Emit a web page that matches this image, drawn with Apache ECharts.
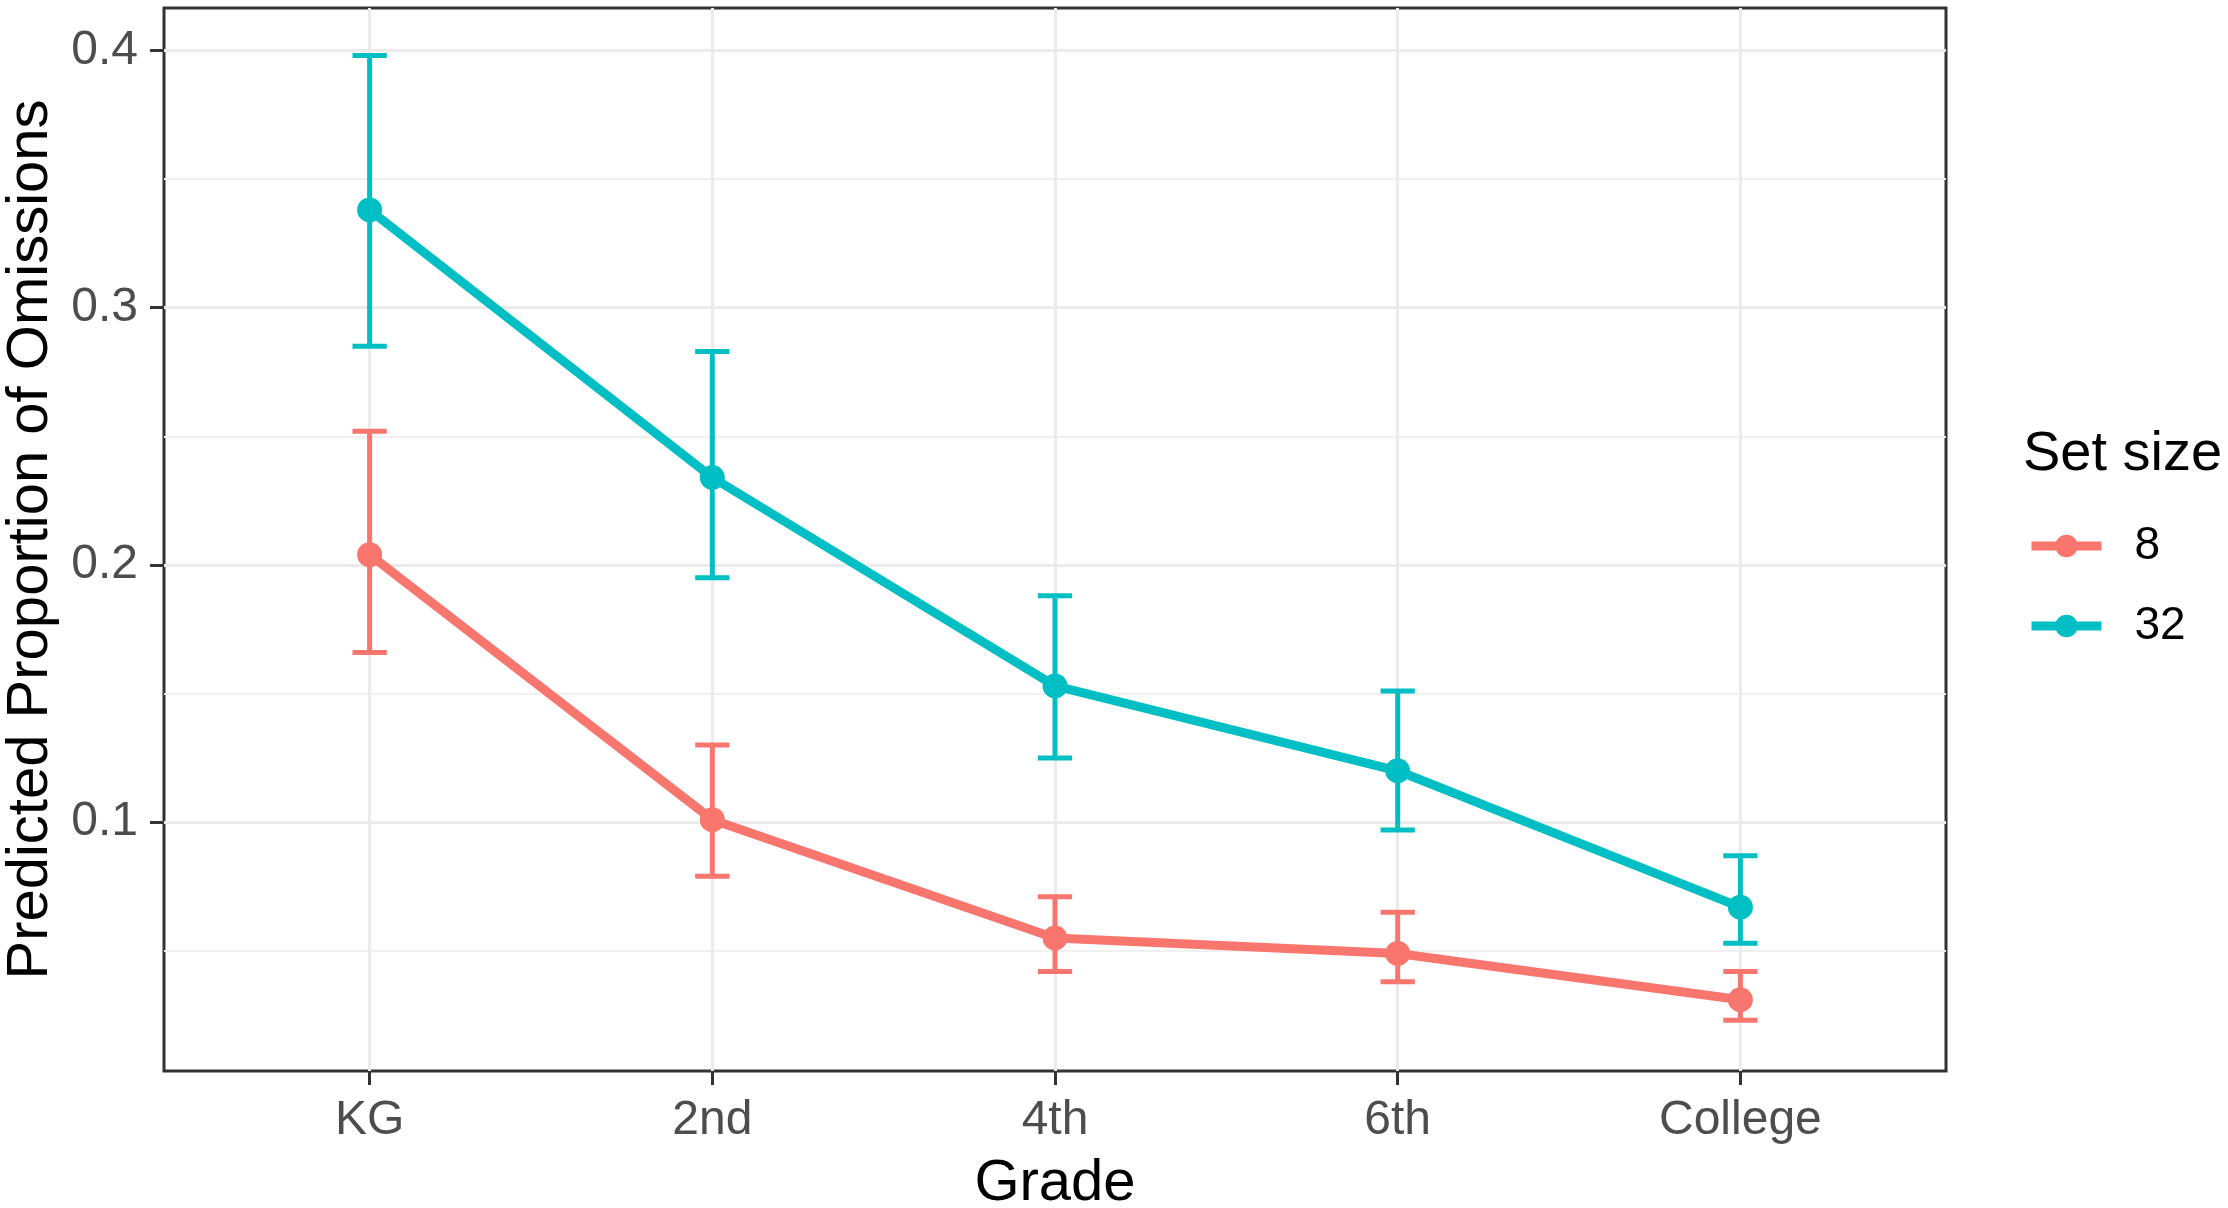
<!DOCTYPE html>
<html style="height: 100%">
<head>
  <meta charset="utf-8">
  <title>Predicted Proportion of Omissions by Grade</title>
  <script src="https://cdn.jsdelivr.net/npm/echarts@6/dist/echarts.min.js"></script>
</head>
<body style="margin: 0; height: 100%; background: #fff">
  <div id="main" style="width: 2228px; height: 1208px"></div>

  <script>
    // data
    const grades = ['KG', '2nd', '4th', '6th', 'College'];
    const setSizes = ['8', '32'];
    const colors = ['#F8766D', '#00BFC4'];

    const mean8 = [0.204, 0.101, 0.055, 0.049, 0.031];
    const lower8 = [0.166, 0.079, 0.042, 0.038, 0.023];
    const upper8 = [0.252, 0.130, 0.071, 0.065, 0.042];

    const mean32 = [0.338, 0.234, 0.153, 0.120, 0.067];
    const lower32 = [0.285, 0.195, 0.125, 0.097, 0.053];
    const upper32 = [0.398, 0.283, 0.188, 0.151, 0.087];

    const yTicks = [0.1, 0.2, 0.3, 0.4];
    const yMinorTicks = [0.05, 0.15, 0.25, 0.35];
    const xTicks = [0, 1, 2, 3, 4];

    const font = '"Liberation Sans", Arial, sans-serif';
    const capHalf = 0.05; // errorbar width 0.1

    const chart = echarts.init(document.getElementById('main'));

    function lineSeries(name, values, color) {
      return {
        name: name,
        type: 'line',
        data: values.map((v, i) => [i, v]),
        symbol: 'circle',
        symbolSize: 25,
        lineStyle: { color: color, width: 9 },
        itemStyle: { color: color },
        z: 4
      };
    }

    function errorBars(lower, upper, color) {
      return {
        type: 'custom',
        data: lower.map((lo, i) => [i, lo, upper[i]]),
        encode: { x: 0, y: [1, 2] },
        z: 3,
        silent: true,
        renderItem: function (params, api) {
          const x = api.value(0);
          const lo = api.value(1);
          const hi = api.value(2);
          const bottom = api.coord([x, lo]);
          const top = api.coord([x, hi]);
          const bl = api.coord([x - capHalf, lo]);
          const br = api.coord([x + capHalf, lo]);
          const tl = api.coord([x - capHalf, hi]);
          const tr = api.coord([x + capHalf, hi]);
          const style = { stroke: color, lineWidth: 5 };
          return {
            type: 'group',
            children: [
              { type: 'line', shape: { x1: bottom[0], y1: bottom[1], x2: top[0], y2: top[1] }, style: style },
              { type: 'line', shape: { x1: bl[0], y1: bl[1], x2: br[0], y2: br[1] }, style: style },
              { type: 'line', shape: { x1: tl[0], y1: tl[1], x2: tr[0], y2: tr[1] }, style: style }
            ]
          };
        }
      };
    }

    chart.setOption({
      animation: false,
      backgroundColor: '#ffffff',
      textStyle: { fontFamily: font },
      title: {
        text: 'Set size',
        left: 2018,
        top: 422,
        textStyle: { fontFamily: font, fontSize: 56, fontWeight: 'normal', color: '#000' }
      },
      legend: {
        data: setSizes,
        orient: 'vertical',
        left: 2022,
        top: 518,
        itemWidth: 70,
        itemHeight: 28,
        itemGap: 34,
        lineStyle: { width: 9 },
        textStyle: { fontFamily: font, fontSize: 46, color: '#000', padding: [0, 0, 0, 28] }
      },
      grid: {
        left: 164,
        right: 282,
        top: 8,
        bottom: 137,
        outerBoundsMode: 'none',
        containLabel: false,
        show: true,
        borderColor: '#333333',
        borderWidth: 3,
        backgroundColor: '#fff'
      },
      xAxis: {
        type: 'value',
        min: -0.6,
        max: 4.6,
        name: 'Grade',
        nameLocation: 'middle',
        nameGap: 84,
        nameTextStyle: { fontFamily: font, fontSize: 58, color: '#000' },
        axisLine: { show: false, onZero: false },
        axisTick: {
          show: true,
          customValues: xTicks,
          length: 14,
          lineStyle: { color: '#333333', width: 3 }
        },
        axisLabel: {
          customValues: xTicks,
          margin: 26,
          fontFamily: font,
          fontSize: 48,
          color: '#4D4D4D',
          formatter: v => grades[Math.round(v)]
        },
        splitLine: { show: true, lineStyle: { color: '#EBEBEB', width: 3 } }
      },
      yAxis: [{
        type: 'value',
        min: 0.0033,
        max: 0.4165,
        name: 'Predicted Proportion of Omissions',
        nameLocation: 'middle',
        nameGap: 92,
        nameTextStyle: { fontFamily: font, fontSize: 58, color: '#000' },
        axisLine: { show: false, onZero: false },
        axisTick: {
          show: true,
          customValues: yTicks,
          length: 14,
          lineStyle: { color: '#333333', width: 3 }
        },
        axisLabel: {
          customValues: yTicks,
          margin: 26,
          fontFamily: font,
          fontSize: 48,
          color: '#4D4D4D',
          formatter: v => v.toFixed(1)
        },
        splitLine: { show: true, lineStyle: { color: '#EBEBEB', width: 3 } }
      }, {
        type: 'value',
        min: 0.0033,
        max: 0.4165,
        position: 'left',
        axisLine: { show: false, onZero: false },
        axisTick: { show: false, customValues: yMinorTicks },
        axisLabel: { show: false, customValues: yMinorTicks },
        splitLine: { show: true, lineStyle: { color: '#F0F0F0', width: 2 } }
      }],
      series: [
        errorBars(lower8, upper8, colors[0]),
        errorBars(lower32, upper32, colors[1]),
        lineSeries(setSizes[0], mean8, colors[0]),
        lineSeries(setSizes[1], mean32, colors[1])
      ]
    });
  </script>
</body>
</html>
